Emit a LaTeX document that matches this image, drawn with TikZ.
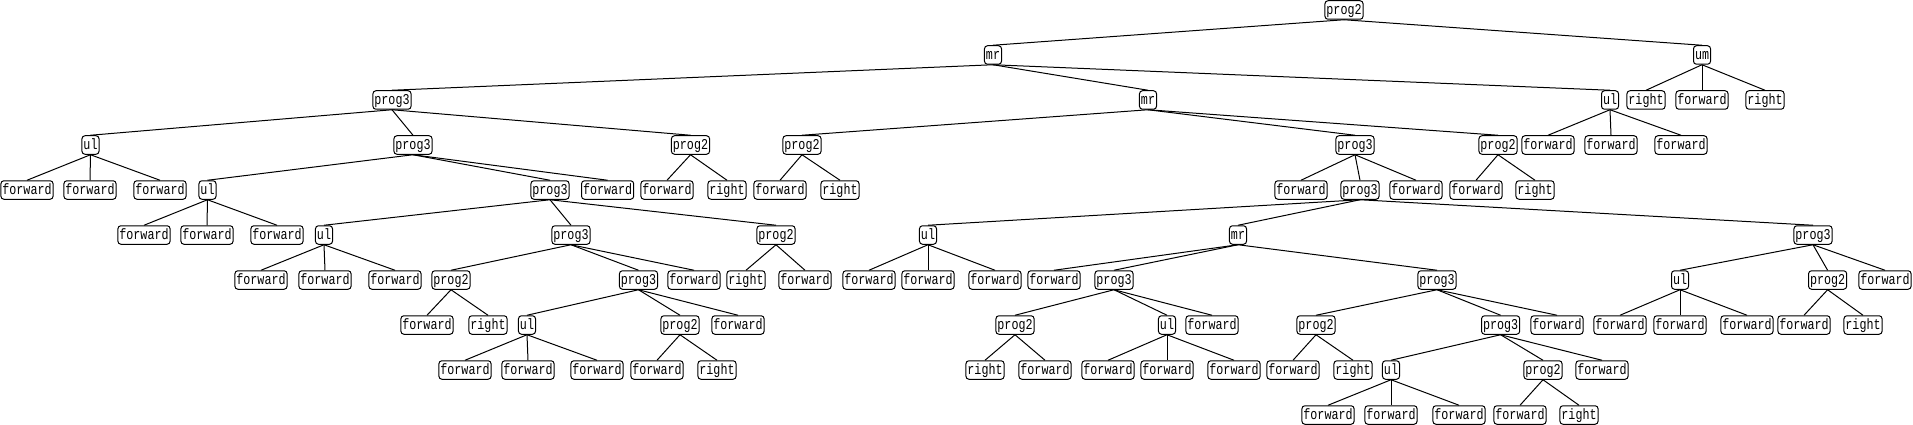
\documentclass[tikz,border=0pt]{standalone}
\usepackage{fontspec}
\newfontfamily\treefont[FakeStretch=0.78]{Liberation Mono}
\begin{document}
\begin{tikzpicture}[x=1pt,y=1pt,
  t/.style={draw, rounded corners=3pt, line width=1pt, fill=white,
    font=\treefont\fontsize{15}{15}\selectfont,
    inner xsep=1.5pt, inner ysep=2.5pt, text height=11pt, text depth=2.5pt},
  e/.style={line width=1pt}]
\useasboundingbox (0,0) rectangle (1913,-425);
% row 0
\node[t] (r) at (1344,-10) {prog2};
% row 1
\node[t] (a) at (993,-55) {mr};
\node[t] (b) at (1702,-55) {um};
% row 2
\node[t] (a1) at (392,-100) {prog3};
\node[t] (a2) at (1148,-100) {mr};
\node[t] (a3) at (1610,-100) {ul};
\node[t] (b1) at (1646,-100) {right};
\node[t] (b2) at (1702,-100) {forward};
\node[t] (b3) at (1765,-100) {right};
% row 3
\node[t] (a11) at (90.5,-145) {ul};
\node[t] (a12) at (413,-145) {prog3};
\node[t] (a13) at (690.5,-145) {prog2};
\node[t] (a21) at (802,-145) {prog2};
\node[t] (a22) at (1355,-145) {prog3};
\node[t] (a23) at (1498,-145) {prog2};
\node[t] (a31) at (1548,-145) {forward};
\node[t] (a32) at (1611,-145) {forward};
\node[t] (a33) at (1681,-145) {forward};
% row 4
\node[t] (a111) at (27,-190) {forward};
\node[t] (a112) at (90,-190) {forward};
\node[t] (a113) at (160,-190) {forward};
\node[t] (a121) at (207.5,-190) {ul};
\node[t] (a122) at (550,-190) {prog3};
\node[t] (a123) at (607.6,-190) {forward};
\node[t] (a131) at (667,-190) {forward};
\node[t] (a132) at (727,-190) {right};
\node[t] (a211) at (780,-190) {forward};
\node[t] (a212) at (840,-190) {right};
\node[t] (a221) at (1301,-190) {forward};
\node[t] (a222) at (1360,-190) {prog3};
\node[t] (a223) at (1416,-190) {forward};
\node[t] (a231) at (1476,-190) {forward};
\node[t] (a232) at (1535,-190) {right};
% row 5
\node[t] (c1) at (144,-235) {forward};
\node[t] (c2) at (207,-235) {forward};
\node[t] (c3) at (277,-235) {forward};
\node[t] (c4) at (324,-235) {ul};
\node[t] (c5) at (571,-235) {prog3};
\node[t] (c6) at (776,-235) {prog2};
\node[t] (c7) at (928,-235) {ul};
\node[t] (c8) at (1238,-235) {mr};
\node[t] (c9) at (1813,-235) {prog3};
% row 6
\node[t] (d1) at (261,-280) {forward};
\node[t] (d2) at (325,-280) {forward};
\node[t] (d3) at (395,-280) {forward};
\node[t] (e1) at (451,-280) {prog2};
\node[t] (e2) at (638.5,-280) {prog3};
\node[t] (e3) at (694,-280) {forward};
\node[t] (f1) at (746,-280) {right};
\node[t] (f2) at (805,-280) {forward};
\node[t] (g1) at (869,-280) {forward};
\node[t] (g2) at (928,-280) {forward};
\node[t] (g3) at (995,-280) {forward};
\node[t] (h1) at (1054,-280) {forward};
\node[t] (h2) at (1114,-280) {prog3};
\node[t] (h3) at (1437,-280) {prog3};
\node[t] (i1) at (1680,-280) {ul};
\node[t] (i2) at (1827.6,-280) {prog2};
\node[t] (i3) at (1885,-280) {forward};
% row 7
\node[t] (e11) at (427,-325) {forward};
\node[t] (e12) at (488,-325) {right};
\node[t] (e21) at (527,-325) {ul};
\node[t] (e22) at (680,-325) {prog2};
\node[t] (e23) at (738,-325) {forward};
\node[t] (h21) at (1015,-325) {prog2};
\node[t] (h22) at (1167,-325) {ul};
\node[t] (h23) at (1212,-325) {forward};
\node[t] (h31) at (1316,-325) {prog2};
\node[t] (h32) at (1500.6,-325) {prog3};
\node[t] (h33) at (1557,-325) {forward};
\node[t] (i11) at (1620,-325) {forward};
\node[t] (i12) at (1680,-325) {forward};
\node[t] (i13) at (1747,-325) {forward};
\node[t] (i21) at (1804,-325) {forward};
\node[t] (i22) at (1863,-325) {right};
% row 8
\node[t] (e211) at (465,-370) {forward};
\node[t] (e212) at (528,-370) {forward};
\node[t] (e213) at (597,-370) {forward};
\node[t] (e221) at (657,-370) {forward};
\node[t] (e222) at (717,-370) {right};
\node[t] (h211) at (985,-370) {right};
\node[t] (h212) at (1045,-370) {forward};
\node[t] (h221) at (1108,-370) {forward};
\node[t] (h222) at (1167,-370) {forward};
\node[t] (h223) at (1234,-370) {forward};
\node[t] (h311) at (1293,-370) {forward};
\node[t] (h312) at (1353,-370) {right};
\node[t] (h321) at (1391,-370) {ul};
\node[t] (h322) at (1543,-370) {prog2};
\node[t] (h323) at (1602,-370) {forward};
% row 9
\node[t] (h3211) at (1328,-415) {forward};
\node[t] (h3212) at (1391,-415) {forward};
\node[t] (h3213) at (1459,-415) {forward};
\node[t] (h3221) at (1520,-415) {forward};
\node[t] (h3222) at (1579,-415) {right};
% edges
\foreach \p/\c in {r/a,r/b,
  a/a1,a/a2,a/a3,b/b1,b/b2,b/b3,
  a1/a11,a1/a12,a1/a13,a2/a21,a2/a22,a2/a23,a3/a31,a3/a32,a3/a33,
  a11/a111,a11/a112,a11/a113,a12/a121,a12/a122,a12/a123,a13/a131,a13/a132,
  a21/a211,a21/a212,a22/a221,a22/a222,a22/a223,a23/a231,a23/a232,
  a121/c1,a121/c2,a121/c3,a122/c4,a122/c5,a122/c6,a222/c7,a222/c8,a222/c9,
  c4/d1,c4/d2,c4/d3,c5/e1,c5/e2,c5/e3,c6/f1,c6/f2,c7/g1,c7/g2,c7/g3,
  c8/h1,c8/h2,c8/h3,c9/i1,c9/i2,c9/i3,
  e1/e11,e1/e12,e2/e21,e2/e22,e2/e23,h2/h21,h2/h22,h2/h23,h3/h31,h3/h32,h3/h33,
  i1/i11,i1/i12,i1/i13,i2/i21,i2/i22,
  e21/e211,e21/e212,e21/e213,e22/e221,e22/e222,h21/h211,h21/h212,
  h22/h221,h22/h222,h22/h223,h31/h311,h31/h312,h32/h321,h32/h322,h32/h323,
  h321/h3211,h321/h3212,h321/h3213,h322/h3221,h322/h3222}
  {\draw[e] (\p.south) -- (\c.north);}
\end{tikzpicture}
\end{document}
